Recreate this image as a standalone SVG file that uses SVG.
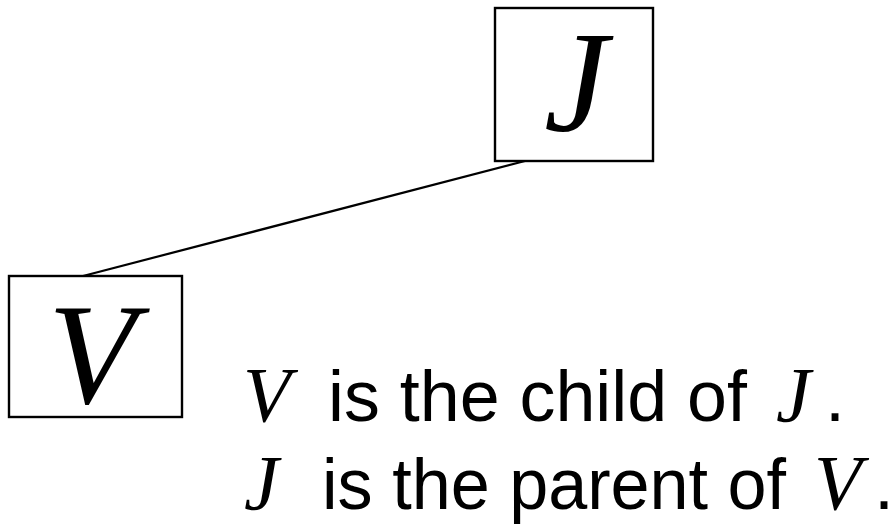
<svg xmlns="http://www.w3.org/2000/svg" width="896" height="527" viewBox="0 0 896 527">
<style>
.box{fill:#fff;stroke:#000;stroke-width:2.4}
.edge{stroke:#000;stroke-width:2.2;fill:none}
.m{font-family:"Liberation Serif","DejaVu Serif",serif;font-style:italic;fill:#000}
.s{font-family:"Liberation Sans","DejaVu Sans",sans-serif;fill:#000}
</style>
<rect width="896" height="527" fill="#fff"/>
<g id="connectors">
<line class="edge" x1="525" y1="161" x2="83" y2="276"/>
</g>
<g id="node-J">
<rect class="box" x="495" y="8" width="158" height="153"/>
<text class="m" x="576" y="131" font-size="144" text-anchor="middle">J</text>
</g>
<g id="node-V">
<rect class="box" x="9" y="276" width="173" height="141"/>
<text class="m" x="92" y="403" font-size="144" text-anchor="middle">V</text>
</g>
<g id="caption">
<text class="m" x="243" y="421" font-size="78">V</text>
<text class="s" x="328" y="421" font-size="72" textLength="419" lengthAdjust="spacingAndGlyphs">is the child of</text>
<text class="m" x="776" y="421" font-size="78">J</text>
<text class="s" x="825" y="421" font-size="72">.</text>
<text class="m" x="244" y="509" font-size="78">J</text>
<text class="s" x="322" y="509" font-size="72" textLength="464" lengthAdjust="spacingAndGlyphs">is the parent of</text>
<text class="m" x="814" y="509" font-size="78">V</text>
<text class="s" x="874" y="509" font-size="72">.</text>
</g>
</svg>
